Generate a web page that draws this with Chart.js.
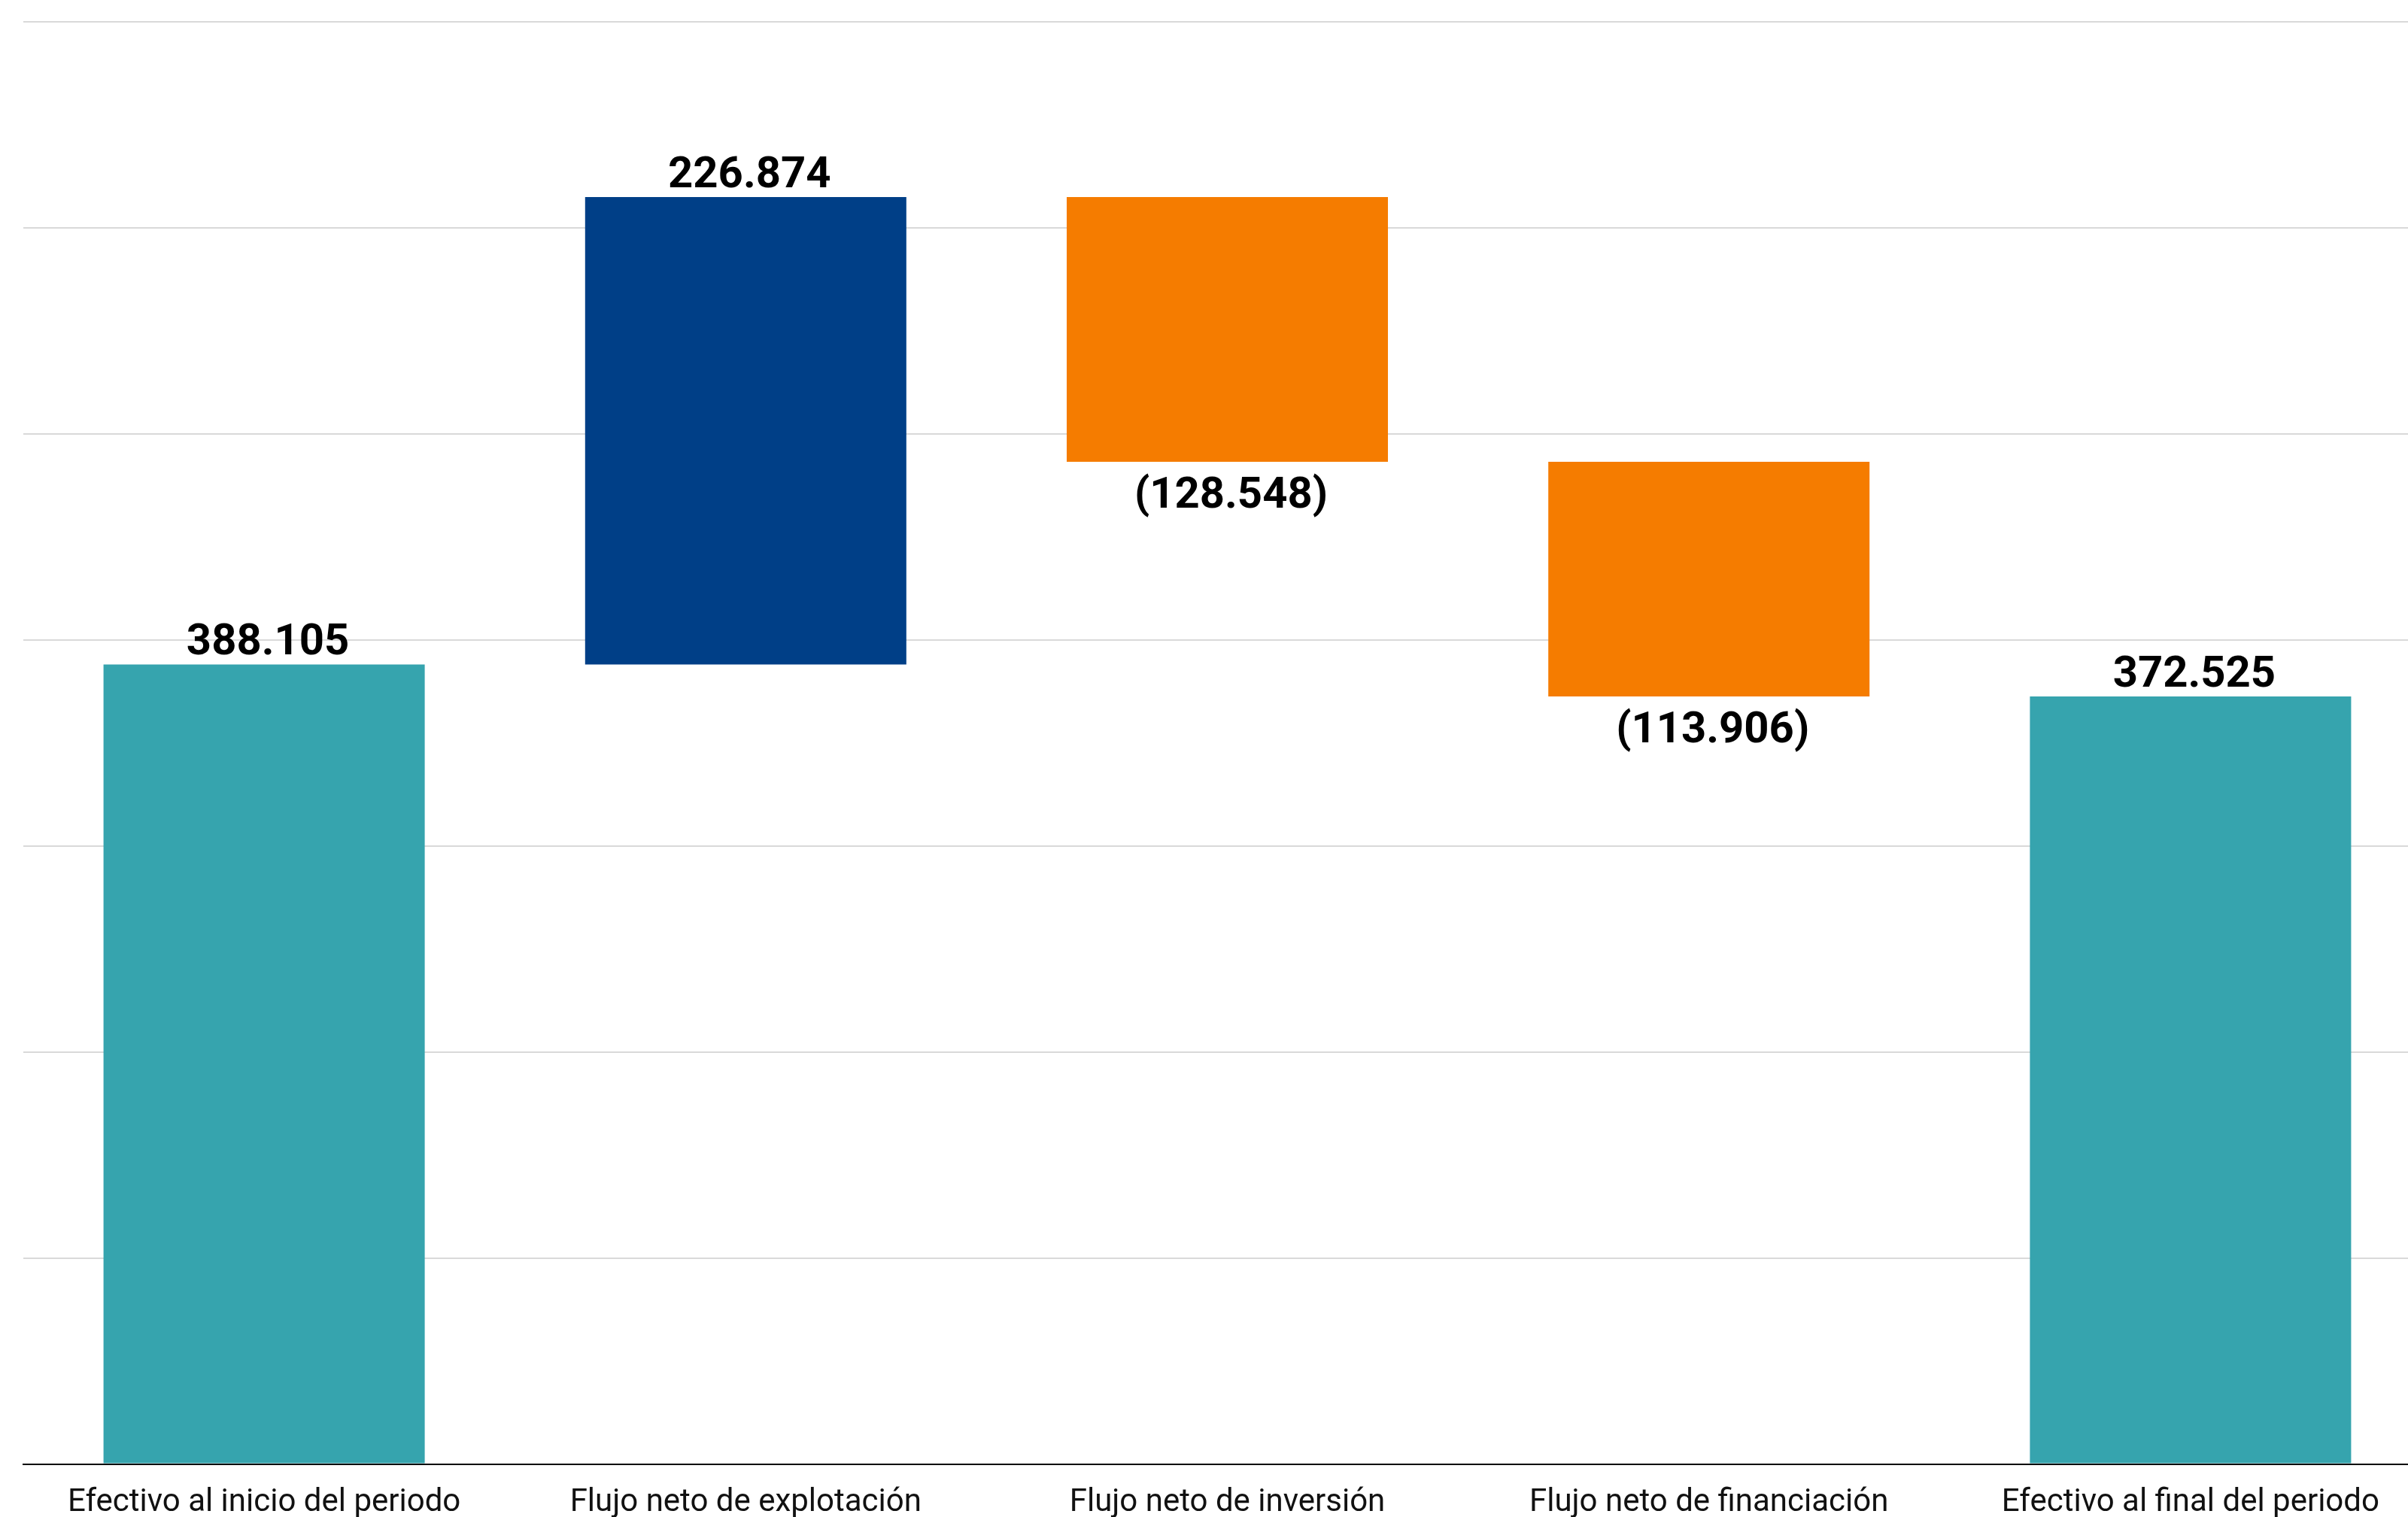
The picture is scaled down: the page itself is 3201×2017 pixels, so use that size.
<!DOCTYPE html>
<html>
<head>
<meta charset="utf-8">
<script src="https://cdn.jsdelivr.net/npm/chart.js@4"></script>
<style>
    html, body { margin: 0; padding: 0; background: #fff; overflow: hidden; }
    #wrap { position: relative; width: 3232px; height: 2055px; }
</style>
</head>
<body>
<div id="wrap"><canvas id="waterfall-chart"></canvas></div>
<script>
// Waterfall data
const categories = [
    'Efectivo al inicio del periodo',
    'Flujo neto de explotación',
    'Flujo neto de inversión',
    'Flujo neto de financiación',
    'Efectivo al final del periodo'
];
const values = [388105, 226874, -128548, -113906, 372525];
const isTotal = [true, false, false, false, true];
const yTicks = [0, 100000, 200000, 300000, 400000, 500000, 600000, 700000];

// Floating ranges for each bar
const ranges = [];
let running = 0;
values.forEach(function(v, i) {
    if (isTotal[i]) {
        ranges.push([0, v]);
        running = v;
    } else {
        ranges.push([running, running + v]);
        running += v;
    }
});

const barColors = values.map(function(v, i) {
    if (isTotal[i]) return 'rgb(54, 164, 174)';
    return v >= 0 ? 'rgb(0, 63, 135)' : 'rgb(245, 124, 0)';
});

function fmt(v) {
    const s = Math.abs(v).toString().replace(/\B(?=(\d{3})+(?!\d))/g, '.');
    return v < 0 ? '(' + s + ')' : s;
}

// Value labels above / below bars
const valueLabels = {
    id: 'valueLabels',
    afterDatasetsDraw: function(chart) {
        const ctx = chart.ctx;
        const meta = chart.getDatasetMeta(0);
        ctx.save();
        ctx.font = 'bold 58px Roboto, sans-serif';
        ctx.fillStyle = '#000';
        ctx.textAlign = 'center';
        meta.data.forEach(function(bar, i) {
            const top = Math.min(bar.y, bar.base);
            const bottom = Math.max(bar.y, bar.base);
            if (values[i] >= 0) {
                ctx.textBaseline = 'alphabetic';
                ctx.fillText(fmt(values[i]), bar.x + 5, top - 13);
            } else {
                ctx.textBaseline = 'top';
                ctx.fillText(fmt(values[i]), bar.x + 5, bottom + 17);
            }
        });
        ctx.restore();
    }
};

new Chart(document.getElementById('waterfall-chart'), {
    type: 'bar',
    data: {
        labels: categories,
        datasets: [{
            data: ranges,
            backgroundColor: barColors,
            borderWidth: 0,
            categoryPercentage: 1,
            barPercentage: 0.667
        }]
    },
    options: {
        responsive: true,
        maintainAspectRatio: false,
        animation: false,
        layout: {
            padding: { left: 31, right: 0, top: 29, bottom: 4 }
        },
        plugins: {
            legend: { display: false },
            tooltip: { enabled: false }
        },
        scales: {
            x: {
                grid: { display: false, drawTicks: false },
                border: { display: true, color: '#000', width: 2 },
                ticks: {
                    padding: 27,
                    color: '#111',
                    font: { family: '"Liberation Sans Narrow", Roboto, sans-serif', size: 42 }
                }
            },
            y: {
                min: 0,
                max: yTicks[yTicks.length - 1],
                afterBuildTicks: function(scale) {
                    scale.ticks = yTicks.map(function(v) { return { value: v }; });
                },
                grid: { color: '#d9d9d9', lineWidth: 2, drawTicks: false },
                border: { display: false },
                ticks: { display: false }
            }
        }
    },
    plugins: [valueLabels]
});
</script>
</body>
</html>
